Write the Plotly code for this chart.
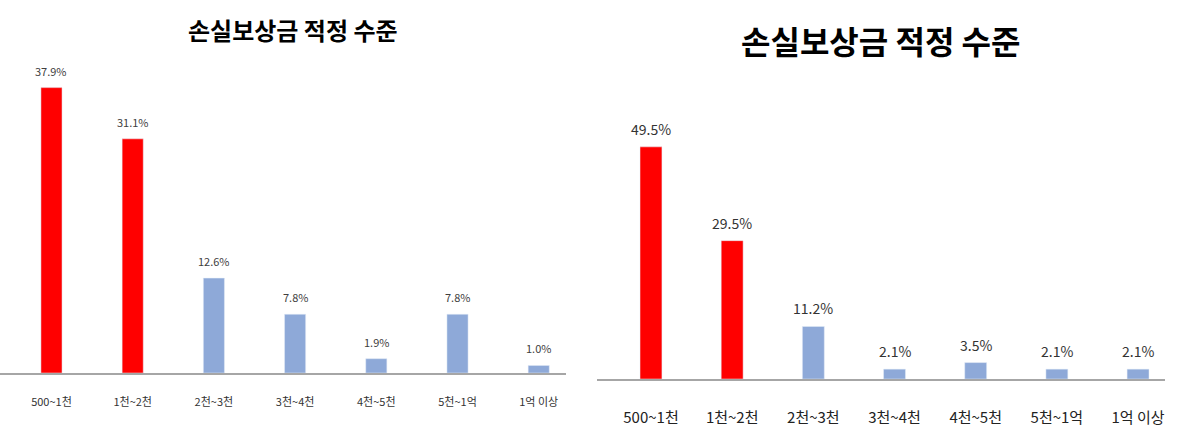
import plotly.graph_objects as go

categories = ['500~1천', '1천~2천', '2천~3천', '3천~4천', '4천~5천', '5천~1억', '1억 이상']
left_values = [37.9, 31.1, 12.6, 7.8, 1.9, 7.8, 1.0]
right_values = [49.5, 29.5, 11.2, 2.1, 3.5, 2.1, 2.1]
title_text = '손실보상금 적정 수준'

RED = '#FF0000'
BLUE = '#8EA9D8'
W, H = 1181, 429
FONT = 'Noto Sans CJK KR'

# first two bars are highlighted in red
bar_colors = [RED if i < 2 else BLUE for i in range(len(categories))]

fig = go.Figure()
fig.add_trace(go.Bar(x=categories, y=left_values, marker_color=bar_colors,
                     width=0.26, xaxis='x', yaxis='y'))
fig.add_trace(go.Bar(x=categories, y=right_values, marker_color=bar_colors,
                     width=0.27, xaxis='x2', yaxis='y2'))

# left panel: baseline at 373px, ~7.53 px per %
left_bottom = (H - 373) / H
left_top = 1 - 60 / H
left_range = (left_top - left_bottom) * H / 7.53
# right panel: baseline at 379px, ~4.69 px per %
right_bottom = (H - 379) / H
right_top = 1 - 100 / H
right_range = (right_top - right_bottom) * H / 4.69

annotations = [
    dict(text=f'<b>{title_text}</b>', x=293 / W, y=1 - 30 / H, xref='paper', yref='paper',
         showarrow=False, font=dict(size=24, color='black', family=FONT),
         xanchor='center', yanchor='middle'),
    dict(text=f'<b>{title_text}</b>', x=881 / W, y=1 - 40 / H, xref='paper', yref='paper',
         showarrow=False, font=dict(size=32, color='black', family=FONT),
         xanchor='center', yanchor='middle'),
]
# value labels above the bars
for c, v in zip(categories, left_values):
    annotations.append(dict(text=f'{v:.1f}%', x=c, y=v, xref='x', yref='y', showarrow=False,
                            yshift=17, font=dict(size=11, color='#404040', family=FONT)))
for c, v in zip(categories, right_values):
    annotations.append(dict(text=f'{v:.1f}%', x=c, y=v, xref='x2', yref='y2', showarrow=False,
                            yshift=18, font=dict(size=14, color='#333333', family=FONT)))

fig.update_layout(
    width=W, height=H,
    margin=dict(l=0, r=0, t=0, b=0),
    paper_bgcolor='white', plot_bgcolor='white',
    showlegend=False,
    font=dict(family=FONT),
    xaxis=dict(domain=[0, 566 / W], range=[-0.634, 6.336], showgrid=False,
               showline=True, linecolor='#A6A6A6', linewidth=2, ticks='',
               tickfont=dict(size=11, color='#333333'), ticklabelstandoff=18,
               anchor='y'),
    yaxis=dict(domain=[left_bottom, left_top], range=[0, left_range], visible=False),
    xaxis2=dict(domain=[597 / W, 1165 / W], range=[-0.665, 6.332], showgrid=False,
                showline=True, linecolor='#A6A6A6', linewidth=2, ticks='',
                tickfont=dict(size=15, color='#222222'), ticklabelstandoff=24,
                anchor='y2'),
    yaxis2=dict(domain=[right_bottom, right_top], range=[0, right_range], visible=False,
                anchor='x2'),
    annotations=annotations,
)

# drop the default 8px body margin so the figure sits at the window's corner
fig.write_html('out.html', config={'displayModeBar': False},
               post_script="document.body.style.margin='0';")
